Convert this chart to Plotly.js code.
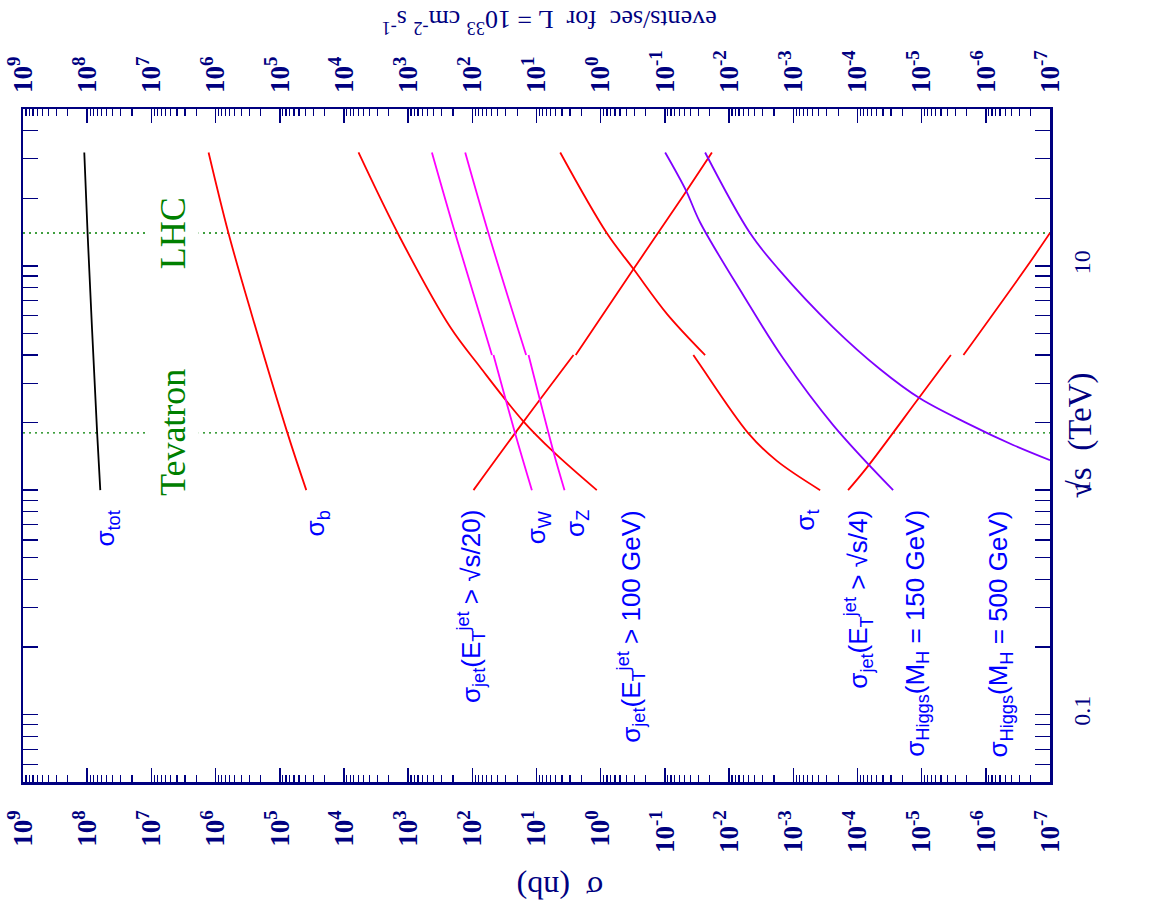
<!DOCTYPE html>
<html><head><meta charset="utf-8">
<script src="https://cdn.plot.ly/plotly-3.0.1.min.js"></script>
<style>html,body{margin:0;padding:0;background:#fff}</style>
</head><body><div id="chart" style="width:1152px;height:921px"></div>
<script>
// ---- data (sqrt(s) in TeV, sigma in nb) ----
const sqrtsTot = [1, 1.8, 14, 32];
const sigmaTot = [6.25e7, 7.0e7, 9.86e7, 1.11e8];
const sqrtsB = [1, 1.8, 6.1, 14, 32];
const sigmaB = [3.86e4, 7.6e4, 2.75e5, 6.3e5, 1.285e6];
const sqrtsJet100 = [1, 1.48, 2.02, 3.53, 5.33, 13.3, 32];
const sigmaJet100 = [1.15, 5.43, 15.9, 75.3, 221, 1327, 5930];
const sqrtsJet20Ppbar = [1, 2.02, 4];
const sigmaJet20Ppbar = [95.8, 15.9, 2.65];
const sqrtsJet20Pp = [4, 9.67, 20.6, 32];
const sigmaJet20Pp = [2.45, 0.308, 0.0513, 0.0185];
const sqrtsWPpbar = [1, 1.79, 4];
const sigmaWPpbar = [11.8, 21.5, 46.8];
const sqrtsWPp = [4, 13.96, 32];
const sigmaWPp = [49.5, 185, 426];
const sqrtsZPpbar = [1, 1.48, 4];
const sigmaZPpbar = [3.66, 5.43, 13.3];
const sqrtsZPp = [4, 13.96, 32];
const sigmaZPp = [14.5, 56, 129];
const sqrtsTopPpbar = [1, 1.35, 1.79, 3.6, 4];
const sigmaTopPpbar = [3.81e-4, 1.8e-3, 5.0e-3, 0.028, 0.036];
const sqrtsTopPp = [4, 6.11, 9.67, 13.96, 32];
const sigmaTopPp = [0.0236, 0.093, 0.308, 0.8, 4.27];
const sqrtsJet4Ppbar = [1, 1.26, 2.56, 4];
const sigmaJet4Ppbar = [1.4e-4, 7.14e-5, 1.12e-5, 3.5e-6];
const sqrtsJet4Pp = [4, 9.9, 14];
const sigmaJet4Pp = [2.23e-6, 2.3e-7, 1e-7];
const sqrtsH150 = [1, 1.95, 3.87, 7.39, 15.6, 21.7, 32];
const sigmaH150 = [2.78e-5, 2.39e-4, 1.44e-3, 6.0e-3, 0.0282, 0.047, 0.0989];
const sqrtsH500 = [1.36, 1.59, 1.99, 2.56, 3.46, 5.32, 9.67, 13.96, 32];
const sigmaH500 = [1e-7, 3.76e-7, 1.98e-6, 1.05e-5, 4.43e-5, 2.39e-4, 1.7e-3, 4.69e-3, 0.0236];
const colliderNames = ['Tevatron', 'LHC'];
const colliderEnergy = [1.8, 14];
const sigmaExponents = [9, 8, 7, 6, 5, 4, 3, 2, 1, 0, -1, -2, -3, -4, -5, -6, -7];
const sqrtsTickVals = [0.1, 1, 10];
const sqrtsTickText = ['0.1', '1', '10'];
const sigmaRange = [1e9, 1e-7];
const sqrtsRange = [0.05, 50];

// ---- styles ----
const NAVY = '#000080', RED = '#ff0000', MAG = '#ff00ff', PURP = '#7f00ff', GREEN = '#008000', BLUE = '#0000ff';
const SERIF = 'Liberation Serif, Times New Roman, serif';
const SANS = 'Liberation Sans, Arial, sans-serif';
const LW = 1.8;

function curve(x, y, color) {
  return {x: x, y: y, type: 'scatter', mode: 'lines',
    line: {color: color, width: LW, shape: 'spline', smoothing: 1.0}, hoverinfo: 'skip'};
}

const traces = [];
colliderEnergy.forEach(function (e) {
  traces.push({x: sigmaRange, y: [e, e], type: 'scatter', mode: 'lines',
    line: {color: GREEN, width: 1.4, dash: '2px,4px'}, hoverinfo: 'skip'});
});
traces.push(
  curve(sigmaTot, sqrtsTot, '#000000'),
  curve(sigmaB, sqrtsB, RED),
  curve(sigmaJet100, sqrtsJet100, RED),
  curve(sigmaJet20Ppbar, sqrtsJet20Ppbar, RED),
  curve(sigmaJet20Pp, sqrtsJet20Pp, RED),
  curve(sigmaWPpbar, sqrtsWPpbar, MAG),
  curve(sigmaWPp, sqrtsWPp, MAG),
  curve(sigmaZPpbar, sqrtsZPpbar, MAG),
  curve(sigmaZPp, sqrtsZPp, MAG),
  curve(sigmaTopPpbar, sqrtsTopPpbar, RED),
  curve(sigmaTopPp, sqrtsTopPp, RED),
  curve(sigmaJet4Ppbar, sqrtsJet4Ppbar, RED),
  curve(sigmaJet4Pp, sqrtsJet4Pp, RED),
  curve(sigmaH150, sqrtsH150, PURP),
  curve(sigmaH500, sqrtsH500, PURP)
);
// dummy trace for the top axis
traces.push({x: sigmaRange, y: [1, 1], xaxis: 'x2', yaxis: 'y', type: 'scatter', mode: 'none', hoverinfo: 'skip'});

const decadeVals = sigmaExponents.map(function (e) { return Math.pow(10, e); });
const decadeText = sigmaExponents.map(function (e) { return '<b>10<sup>' + e + '</sup></b>'; });
const lg = Math.log10;

const xBase = {
  type: 'log', range: [lg(sigmaRange[0]), lg(sigmaRange[1])], autorange: false,
  tickmode: 'array', tickvals: decadeVals, ticktext: decadeText, tickangle: -90,
  tickfont: {family: SERIF, size: 27, color: NAVY},
  showgrid: false, zeroline: false
};

const layout = {
  width: 1152, height: 921,
  margin: {l: 23, r: 102, t: 109, b: 139},
  paper_bgcolor: '#ffffff', plot_bgcolor: '#ffffff',
  showlegend: false,
  xaxis: Object.assign({}, xBase, {
    side: 'bottom', ticks: 'inside', ticklen: 14, tickwidth: 1.5, tickcolor: NAVY,
    minor: {ticks: 'inside', ticklen: 7, tickwidth: 1.2, tickcolor: NAVY, dtick: 'D1'},
    showline: true, linecolor: NAVY, linewidth: 2.5, mirror: 'allticks',
    ticklabelstandoff: 15
  }),
  xaxis2: Object.assign({}, xBase, {
    overlaying: 'x', side: 'top', anchor: 'y', ticks: '', showline: false,
    ticklabelstandoff: 15
  }),
  yaxis: {
    type: 'log', range: [lg(sqrtsRange[0]), lg(sqrtsRange[1])], autorange: false,
    side: 'right', tickmode: 'array', tickvals: sqrtsTickVals, ticktext: sqrtsTickText, tickangle: -90,
    tickfont: {family: SERIF, size: 24, color: NAVY},
    ticks: 'inside', ticklen: 15, tickwidth: 1.5, tickcolor: NAVY,
    minor: {ticks: 'inside', ticklen: 8, tickwidth: 1.2, tickcolor: NAVY, dtick: 'D1'},
    showline: true, linecolor: NAVY, linewidth: 2.5, mirror: 'allticks',
    showgrid: false, zeroline: false, ticklabelstandoff: 9
  },
  annotations: []
};

// curve labels (x given as log10 sigma, y as log10 sqrt(s))
const labelTop = -0.08;
const curveLabels = [
  ['σ<sub>tot</sub>', 7.70],
  ['σ<sub>b</sub>', 4.43],
  ['σ<sub>jet</sub>(E<sub>T</sub><sup>jet</sup> &gt; √s/20)', 2.03],
  ['σ<sub>W</sub>', 0.99],
  ['σ<sub>Z</sub>', 0.38],
  ['σ<sub>jet</sub>(E<sub>T</sub><sup>jet</sup> &gt; 100 GeV)', -0.46],
  ['σ<sub>t</sub>', -3.2],
  ['σ<sub>jet</sub>(E<sub>T</sub><sup>jet</sup> &gt; √s/4)', -4.01],
  ['σ<sub>Higgs</sub>(M<sub>H</sub> = 150 GeV)', -4.915],
  ['σ<sub>Higgs</sub>(M<sub>H</sub> = 500 GeV)', -6.22]
];
curveLabels.forEach(function (l) {
  layout.annotations.push({text: l[0], x: l[1], y: labelTop, xref: 'x', yref: 'y',
    xanchor: 'center', yanchor: 'top', textangle: -90, showarrow: false,
    font: {family: SANS, size: 26, color: BLUE}});
});
colliderNames.forEach(function (n, i) {
  layout.annotations.push({text: n, x: 6.66, y: lg(colliderEnergy[i]), xref: 'x', yref: 'y',
    xanchor: 'center', yanchor: 'middle', textangle: -90, showarrow: false,
    bgcolor: '#ffffff', borderpad: 5,
    font: {family: SERIF, size: 36, color: GREEN}});
});
// axis titles
layout.annotations.push({text: '√s\u00a0\u00a0(TeV)', x: 1.0295, y: 0.5156, xref: 'paper', yref: 'paper',
  xanchor: 'center', yanchor: 'middle', textangle: -90, showarrow: false,
  font: {family: SERIF, size: 33, color: NAVY}});
layout.annotations.push({text: 'σ\u00a0\u00a0(nb)', x: 0.523, y: -0.1575, xref: 'paper', yref: 'paper',
  xanchor: 'center', yanchor: 'middle', textangle: 180, showarrow: false,
  font: {family: SERIF, size: 32, color: NAVY}});
layout.annotations.push({text: 'events/sec\u00a0\u00a0for\u00a0\u00a0L = 10<sup>33</sup> cm<sup>-2</sup> s<sup>-1</sup>',
  x: 0.5125, y: 1.129, xref: 'paper', yref: 'paper',
  xanchor: 'center', yanchor: 'middle', textangle: 180, showarrow: false,
  font: {family: SERIF, size: 26, color: NAVY}});

Plotly.newPlot('chart', traces, layout, {staticPlot: true, displayModeBar: false});
</script>
</body></html>
